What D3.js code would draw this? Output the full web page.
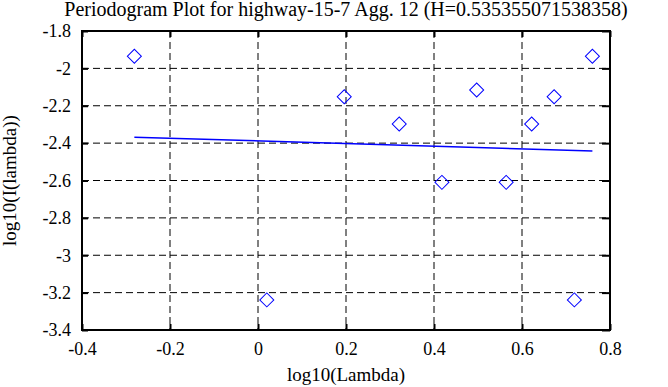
<!DOCTYPE html>
<html>
<head>
<meta charset="utf-8">
<script src="https://cdn.jsdelivr.net/npm/d3@7"></script>
<style>
  body { margin: 0; background: #fff; }
  svg text { font-family: "Liberation Serif", "Times New Roman", serif; fill: #000; }
</style>
</head>
<body>
<div id="chart"></div>
<script>
// periodogram points (log10 of frequency, log10 of intensity)
var logLambda = [-0.281, 0.020, 0.196, 0.321, 0.418, 0.497, 0.564, 0.622, 0.673, 0.719, 0.760];
var logI = [-1.935, -3.239, -2.152, -2.298, -2.610, -2.116, -2.610, -2.298, -2.152, -3.239, -1.935];

// fitted line end points
var fitX = [-0.281, 0.760];
var fitY = [-2.368, -2.442];

var xTicks = [-0.4, -0.2, 0, 0.2, 0.4, 0.6, 0.8];
var yTicks = [-1.8, -2, -2.2, -2.4, -2.6, -2.8, -3, -3.2, -3.4];

var titleText = "Periodogram Plot for highway-15-7 Agg. 12 (H=0.535355071538358)";

var width = 668, height = 387;
var pLeft = 82, pRight = 610, pTop = 31, pBottom = 330;

var svg = d3.select("#chart").append("svg").attr("width", width).attr("height", height);

var x = d3.scaleLinear().domain([-0.4, 0.8]).range([pLeft, pRight]);
var y = d3.scaleLinear().domain([-3.4, -1.8]).range([pBottom, pTop]);

function fmt(v) { return String(Math.round(v * 10) / 10); }

// grid
svg.append("g").selectAll("line").data(xTicks.slice(1, -1)).enter().append("line")
    .attr("x1", function (d) { return x(d) }).attr("x2", function (d) { return x(d) })
    .attr("y1", pTop).attr("y2", pBottom)
    .attr("stroke", "#000").attr("stroke-width", 1).attr("stroke-dasharray", "7,4")
svg.append("g").selectAll("line").data(yTicks.slice(1, -1)).enter().append("line")
    .attr("y1", function (d) { return y(d) }).attr("y2", function (d) { return y(d) })
    .attr("x1", pLeft).attr("x2", pRight)
    .attr("stroke", "#000").attr("stroke-width", 1).attr("stroke-dasharray", "7,4")

// axes with inward ticks on all sides
var tl = 6;
svg.append("g").attr("transform", "translate(0," + pBottom + ")")
    .call(d3.axisBottom(x).tickValues(xTicks).tickSize(-tl).tickPadding(12).tickFormat(fmt));
svg.append("g").attr("transform", "translate(0," + pTop + ")")
    .call(d3.axisTop(x).tickValues(xTicks).tickSize(-tl).tickFormat(""));
svg.append("g").attr("transform", "translate(" + pLeft + ",0)")
    .call(d3.axisLeft(y).tickValues(yTicks).tickSize(-tl).tickPadding(11).tickFormat(fmt));
svg.append("g").attr("transform", "translate(" + pRight + ",0)")
    .call(d3.axisRight(y).tickValues(yTicks).tickSize(-8).tickFormat(""));

svg.selectAll(".domain").remove();
svg.selectAll(".tick line").attr("stroke", "#000").attr("stroke-width", 2);
svg.selectAll(".tick text")
    .style("font-size", "18px").style("font-family", "'Liberation Serif', serif").attr("fill", "#000");

svg.append("rect").attr("x", pLeft).attr("y", pTop)
    .attr("width", pRight - pLeft).attr("height", pBottom - pTop)
    .attr("fill", "none").attr("stroke", "#000").attr("stroke-width", 2);

// fit line
svg.append("line")
    .attr("x1", x(fitX[0])).attr("y1", y(fitY[0]))
    .attr("x2", x(fitX[1])).attr("y2", y(fitY[1]))
    .attr("stroke", "#0000ff").attr("stroke-width", 1.5);

// diamonds
var diamond = d3.symbol().type(d3.symbolSquare).size(98);
svg.append("g").selectAll("path").data(logLambda).enter().append("path")
    .attr("d", diamond)
    .attr("transform", function (d, i) { return "translate(" + x(d) + "," + y(logI[i]) + ")rotate(45)" })
    .attr("fill", "none").attr("stroke", "#0000ff").attr("stroke-width", 1);

// title and labels
svg.append("text").attr("x", (pLeft + pRight) / 2).attr("y", 16)
    .attr("text-anchor", "middle").style("font-size", "20px").text(titleText);
svg.append("text").attr("x", (pLeft + pRight) / 2).attr("y", 381)
    .attr("text-anchor", "middle").style("font-size", "19px").text("log10(Lambda)");
svg.append("text").attr("transform", "translate(16," + ((pTop + pBottom) / 2) + ")rotate(-90)")
    .attr("text-anchor", "middle").style("font-size", "19px").text("log10(I(lambda))");
</script>
</body>
</html>
